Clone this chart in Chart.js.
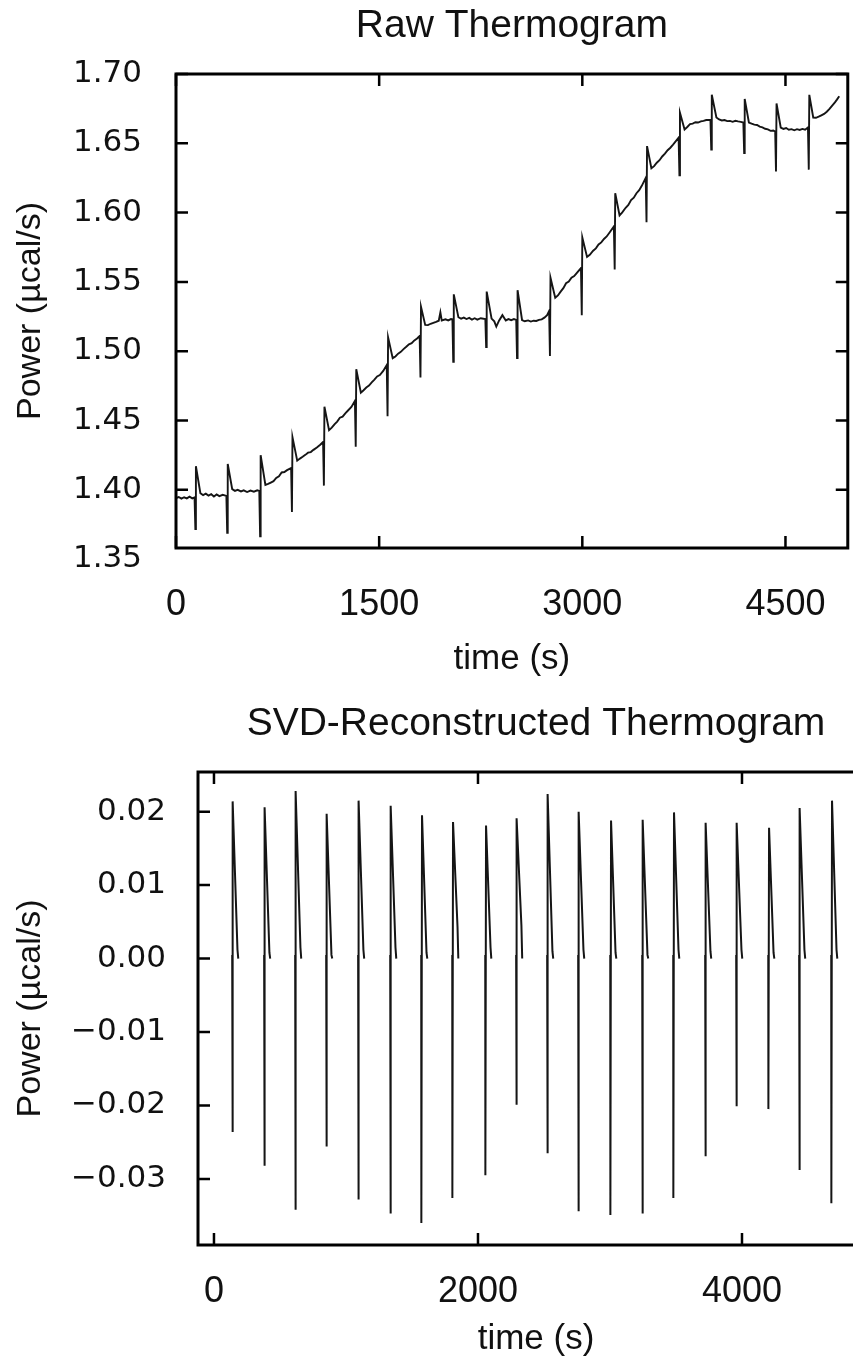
<!DOCTYPE html>
<html>
<head>
<meta charset="utf-8">
<script src="https://cdn.jsdelivr.net/npm/chart.js@4.4.0/dist/chart.umd.min.js"></script>
<style>
  html, body { margin: 0; padding: 0; background: #fff; overflow: hidden; }
  #wrap { position: relative; width: 853px; height: 1361px; overflow: hidden; }
  canvas { position: absolute; left: 0; }
</style>
</head>
<body>
<div id="wrap">
  <canvas id="rawChart" width="853" height="690" style="top:0"></canvas>
  <canvas id="svdChart" width="900" height="663" style="top:698px"></canvas>
</div>
<script>
// ---- data ----
const injectionTimes = [147, 382, 625, 860, 1096, 1331, 1566, 1809, 2051, 2294, 2522, 2765, 3000, 3243, 3478, 3721, 3956, 4199, 4434, 4676];
const rawLow  = [1.3716, 1.369, 1.3665, 1.384, 1.403, 1.431, 1.453, 1.481, 1.4923, 1.503, 1.495, 1.4966, 1.526, 1.559, 1.593, 1.627, 1.6455, 1.643, 1.6296, 1.631];
const rawHigh = [1.417, 1.4186, 1.425, 1.438, 1.46, 1.487, 1.510, 1.532, 1.541, 1.543, 1.544, 1.553, 1.582, 1.614, 1.648, 1.672, 1.685, 1.682, 1.6787, 1.685];
// baseline between injections: [time, power]
const rawBaseline = [
  [0, 1.394], [20, 1.3948], [40, 1.3936], [60, 1.3946], [80, 1.3938], [100, 1.395], [120, 1.3938], [137, 1.3945],
  [180, 1.3975], [200, 1.3962], [220, 1.3972], [240, 1.3958], [260, 1.3968], [280, 1.3952], [300, 1.3966], [320, 1.3954], [345, 1.3964], [372, 1.3956],
  [415, 1.4005], [435, 1.3992], [455, 1.4], [480, 1.3988], [500, 1.3996], [525, 1.3984], [550, 1.3994], [575, 1.3986], [600, 1.3996], [615, 1.3992],
  [660, 1.4035], [680, 1.4042], [700, 1.4052], [720, 1.4062], [740, 1.4085], [760, 1.4098], [780, 1.4125], [800, 1.4128], [820, 1.4142], [850, 1.4157],
  [895, 1.421], [915, 1.4225], [935, 1.4238], [955, 1.4252], [975, 1.4268], [995, 1.4272], [1015, 1.4288], [1040, 1.4305], [1065, 1.4325], [1086, 1.4345],
  [1130, 1.443], [1150, 1.4448], [1170, 1.4472], [1190, 1.4492], [1210, 1.452], [1230, 1.4528], [1250, 1.4552], [1270, 1.4572], [1295, 1.4598], [1321, 1.4641],
  [1365, 1.47], [1385, 1.4718], [1405, 1.4738], [1425, 1.4752], [1445, 1.4775], [1465, 1.4795], [1485, 1.4818], [1505, 1.4828], [1530, 1.4858], [1556, 1.49],
  [1600, 1.495], [1620, 1.4962], [1640, 1.4982], [1660, 1.4995], [1680, 1.5015], [1700, 1.5032], [1720, 1.505], [1740, 1.5058], [1760, 1.5078], [1780, 1.5092], [1799, 1.511],
  [1840, 1.519], [1860, 1.5188], [1880, 1.5198], [1900, 1.5205], [1920, 1.5212], [1940, 1.522], [1952, 1.528], [1962, 1.5222], [1990, 1.523], [2010, 1.5222], [2030, 1.5232], [2041, 1.523],
  [2085, 1.5245], [2105, 1.5235], [2125, 1.5242], [2145, 1.5232], [2165, 1.524], [2185, 1.5228], [2205, 1.5238], [2225, 1.5228], [2250, 1.5238], [2284, 1.5232],
  [2330, 1.5235], [2350, 1.5215], [2365, 1.5177], [2385, 1.522], [2410, 1.526], [2435, 1.5222], [2455, 1.5232], [2475, 1.5224], [2495, 1.5232], [2512, 1.5226],
  [2555, 1.5225], [2575, 1.5216], [2600, 1.5222], [2620, 1.5214], [2640, 1.522], [2660, 1.5218], [2680, 1.5226], [2700, 1.523], [2720, 1.5242], [2740, 1.526], [2755, 1.529],
  [2800, 1.5385], [2820, 1.5402], [2840, 1.543], [2860, 1.5455], [2880, 1.549], [2900, 1.5502], [2920, 1.553], [2940, 1.5542], [2960, 1.5565], [2990, 1.560],
  [3035, 1.568], [3055, 1.5695], [3080, 1.5725], [3100, 1.5742], [3120, 1.577], [3140, 1.5785], [3160, 1.581], [3180, 1.5828], [3200, 1.5855], [3233, 1.590],
  [3275, 1.598], [3295, 1.6002], [3320, 1.6035], [3340, 1.6055], [3360, 1.609], [3380, 1.6108], [3400, 1.614], [3420, 1.6162], [3440, 1.6195], [3468, 1.625],
  [3510, 1.632], [3530, 1.6335], [3550, 1.636], [3570, 1.6378], [3590, 1.6405], [3610, 1.6425], [3630, 1.645], [3650, 1.6468], [3670, 1.649], [3711, 1.654],
  [3755, 1.66], [3775, 1.6618], [3795, 1.6638], [3815, 1.6642], [3835, 1.6652], [3855, 1.665], [3875, 1.6658], [3895, 1.6662], [3915, 1.6668], [3946, 1.667],
  [3990, 1.6686], [4010, 1.6672], [4030, 1.6665], [4050, 1.6668], [4070, 1.666], [4090, 1.6662], [4110, 1.6655], [4130, 1.6662], [4150, 1.6658], [4170, 1.6655], [4189, 1.665],
  [4230, 1.665], [4250, 1.6642], [4270, 1.6635], [4290, 1.6632], [4310, 1.662], [4330, 1.6615], [4350, 1.6605], [4370, 1.66], [4390, 1.659], [4410, 1.6592], [4424, 1.6585],
  [4465, 1.6614], [4485, 1.6604], [4505, 1.661], [4525, 1.6598], [4545, 1.6602], [4565, 1.6594], [4585, 1.6602], [4605, 1.6596], [4625, 1.6604], [4645, 1.6598], [4666, 1.6614],
  [4705, 1.6686], [4725, 1.6684], [4745, 1.6692], [4765, 1.6702], [4785, 1.6712], [4805, 1.6728], [4825, 1.6748], [4845, 1.6772], [4865, 1.6795], [4880, 1.6815], [4897, 1.684]
];

const svdTimes = [144, 386, 621, 856, 1098, 1341, 1576, 1811, 2061, 2295, 2530, 2765, 3008, 3250, 3485, 3727, 3962, 4205, 4439, 4682];
const svdMax  = [0.0214, 0.0206, 0.0228, 0.0197, 0.0215, 0.0208, 0.0195, 0.0186, 0.0181, 0.0191, 0.0224, 0.0200, 0.0188, 0.0189, 0.0199, 0.0185, 0.0185, 0.0178, 0.0205, 0.0215];
const svdMin  = [-0.0236, -0.0282, -0.0342, -0.0256, -0.0328, -0.0347, -0.036, -0.0326, -0.0295, -0.0199, -0.0265, -0.0344, -0.0349, -0.0347, -0.0326, -0.0269, -0.0201, -0.0205, -0.0288, -0.0333];
const svdTail = [0.0012, 0.0008, 0.0015, 0.0005, 0.0012, 0.0015, 0.0008, 0.0043, 0.0015, 0.0045, 0.0010, 0.0012, 0.0008, 0.0005, 0.0012, 0.0010, 0.0012, 0.0008, 0.0012, 0.0012];

const rawXTicks = [0, 1500, 3000, 4500];
const rawYTicks = [1.35, 1.40, 1.45, 1.50, 1.55, 1.60, 1.65, 1.70];
const svdXTicks = [0, 2000, 4000];
const svdYTicks = [-0.03, -0.02, -0.01, 0.00, 0.01, 0.02];

// ---- build series ----
const rawPoints = rawBaseline.map(([t, v]) => ({ x: t, y: v }));
injectionTimes.forEach((t, i) => {
  rawPoints.push({ x: t - 4, y: rawLow[i] }, { x: t, y: rawHigh[i] });
});
rawPoints.sort((a, b) => a.x - b.x);

const svdPoints = [];
svdTimes.forEach((t, i) => {
  svdPoints.push(
    { x: t - 6, y: 0.0005 },
    { x: t - 5, y: svdMin[i] },
    { x: t, y: svdMax[i] },
    { x: t + 34, y: svdTail[i] },
    { x: t + 40, y: 0 },
    { x: t + 41, y: null }
  );
});

// ---- frame with inward ticks ----
const frameTicks = {
  id: 'frameTicks',
  afterDatasetsDraw(chart, args, opts) {
    const { ctx, chartArea: a, scales: { x, y } } = chart;
    const len = opts.length;
    ctx.save();
    ctx.strokeStyle = '#000';
    ctx.lineWidth = opts.tickWidth;
    ctx.beginPath();
    x.ticks.forEach(t => {
      const px = x.getPixelForValue(t.value);
      if (px < a.left - 0.5 || px > a.right + 0.5) return;
      ctx.moveTo(px, a.bottom); ctx.lineTo(px, a.bottom - len);
      ctx.moveTo(px, a.top); ctx.lineTo(px, a.top + len);
    });
    y.ticks.forEach(t => {
      const py = y.getPixelForValue(t.value);
      if (py < a.top - 0.5 || py > a.bottom + 0.5) return;
      ctx.moveTo(a.left, py); ctx.lineTo(a.left + len, py);
      ctx.moveTo(a.right, py); ctx.lineTo(a.right - len, py);
    });
    ctx.stroke();
    ctx.lineWidth = opts.frameWidth;
    ctx.strokeRect(a.left, a.top, a.right - a.left, a.bottom - a.top);
    ctx.restore();
  }
};

const ink = '#111';
const arial = "'Liberation Sans', Arial, sans-serif";
const fmtMinus = v => (v < 0 ? '\u2212' + Math.abs(v).toFixed(2) : v.toFixed(2));

function makeChart(id, cfg) {
  return new Chart(document.getElementById(id), {
    type: 'line',
    data: {
      datasets: [{
        data: cfg.points,
        borderColor: '#151515',
        borderWidth: cfg.lineWidth,
        pointRadius: 0,
        tension: 0,
        spanGaps: false
      }]
    },
    options: {
      responsive: false,
      animation: false,
      layout: { padding: { left: 0, right: cfg.padRight, top: 0, bottom: 0 } },
      plugins: {
        legend: { display: false },
        tooltip: { enabled: false },
        title: {
          display: true,
          text: cfg.title,
          fullSize: false,
          color: ink,
          font: { family: arial, size: 39, weight: 'normal' },
          padding: { top: 3, bottom: 24.2 }
        },
        frameTicks: { length: 12, tickWidth: 2.5, frameWidth: 3 }
      },
      scales: {
        x: {
          type: 'linear',
          min: cfg.xMin,
          max: cfg.xMax,
          afterBuildTicks: s => { s.ticks = cfg.xTicks.map(v => ({ value: v })); },
          afterFit: s => { s.height = cfg.xAxisHeight; },
          grid: { display: false },
          border: { display: false },
          ticks: {
            autoSkip: false, maxRotation: 0, padding: cfg.xTickPad, color: ink,
            font: { family: arial, size: 36 },
            callback: v => String(v)
          },
          title: {
            display: true, text: 'time (s)', color: ink,
            font: { family: arial, size: 35 },
            padding: { top: 0, bottom: cfg.xTitlePad }
          }
        },
        y: {
          min: cfg.yMin,
          max: cfg.yMax,
          afterBuildTicks: s => { s.ticks = cfg.yTicks.map(v => ({ value: v })); },
          afterFit: s => { s.width = cfg.yAxisWidth; },
          grid: { display: false },
          border: { display: false },
          ticks: {
            autoSkip: false, padding: cfg.yTickPad, color: ink,
            font: { family: "'DejaVu Sans', sans-serif", size: 31 },
            callback: fmtMinus
          },
          title: {
            display: true, text: 'Power (µcal/s)', color: ink,
            font: { family: arial, size: 34 },
            padding: { top: 10, bottom: 0 }
          }
        }
      }
    },
    plugins: [frameTicks]
  });
}

makeChart('rawChart', {
  points: rawPoints, lineWidth: 1.9, title: 'Raw Thermogram',
  padRight: 2,
  xMin: 0, xMax: 4960, xTicks: rawXTicks, xAxisHeight: 142, xTickPad: 27, xTitlePad: 10,
  yMin: 1.358, yMax: 1.70, yTicks: rawYTicks, yAxisWidth: 176, yTickPad: 26
});

makeChart('svdChart', {
  points: svdPoints, lineWidth: 2, title: 'SVD-Reconstructed Thermogram',
  padRight: 26,
  xMin: -121, xMax: 5000, xTicks: svdXTicks, xAxisHeight: 116, xTickPad: 17, xTitlePad: 1,
  yMin: -0.039, yMax: 0.0254, yTicks: svdYTicks, yAxisWidth: 198, yTickPad: 24
});
</script>
</body>
</html>
